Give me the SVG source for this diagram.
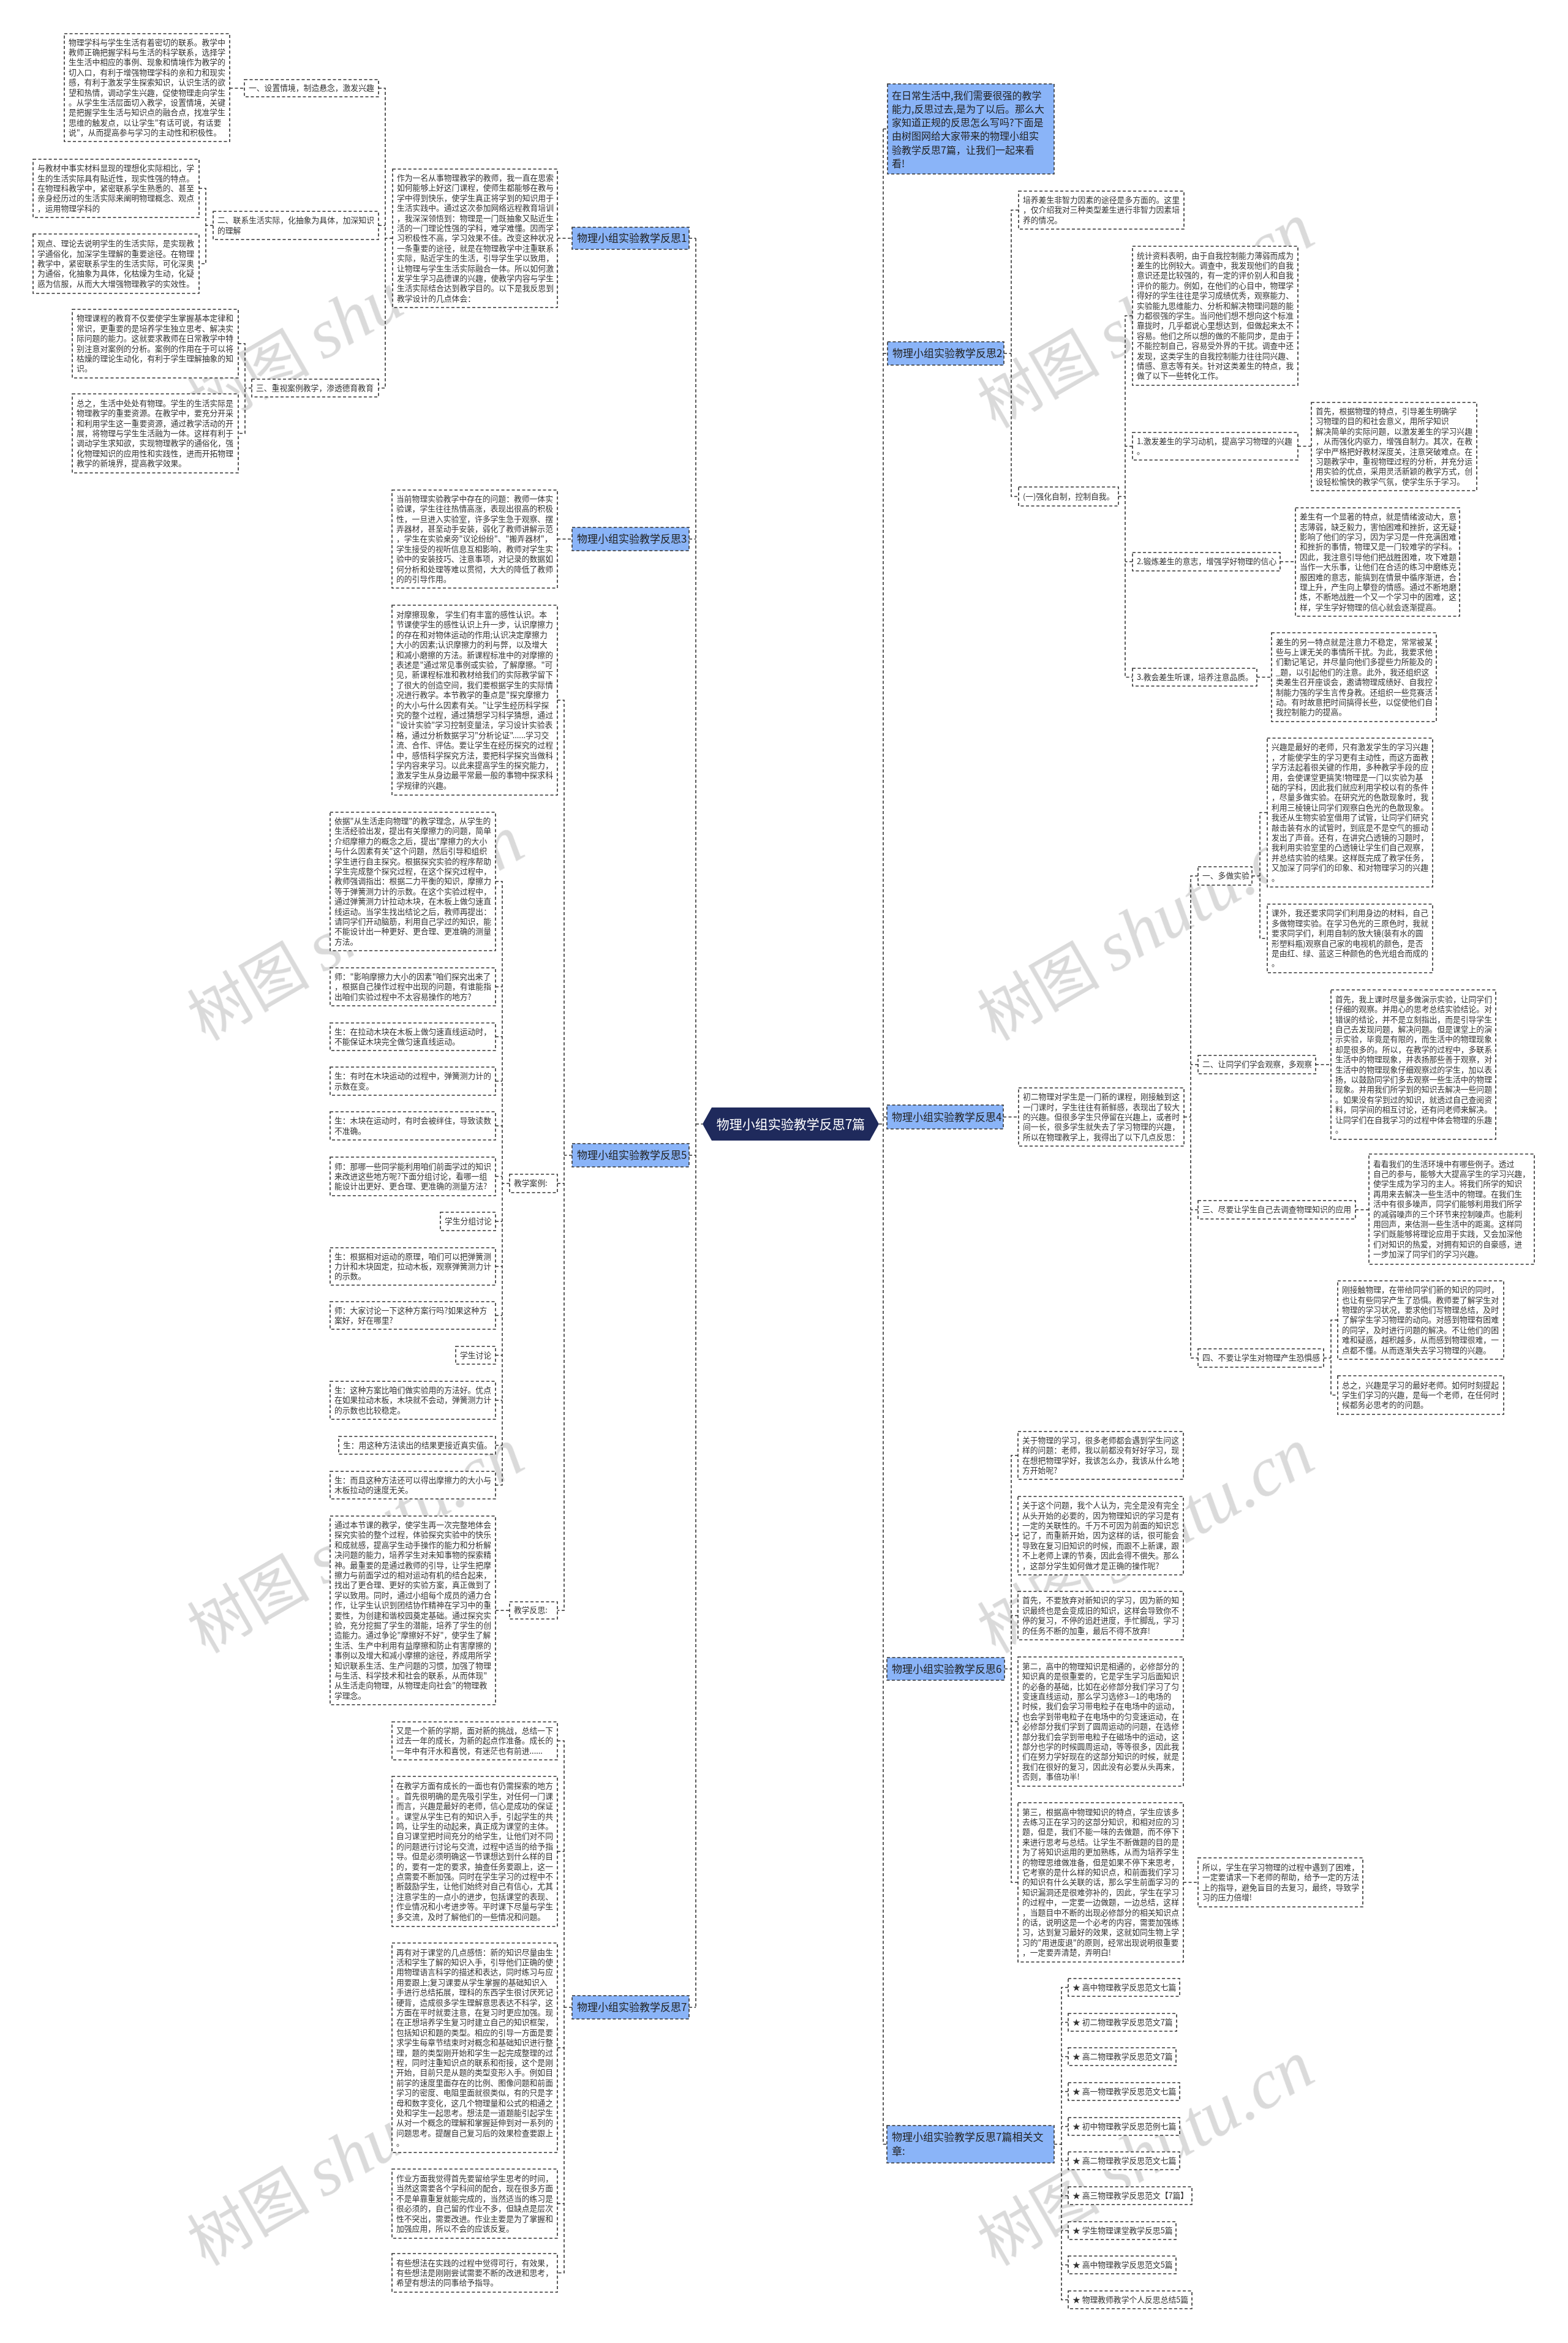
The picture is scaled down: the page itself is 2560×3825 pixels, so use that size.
<svg xmlns="http://www.w3.org/2000/svg" width="2560" height="3825" viewBox="0 0 2560 3825">
<style>
.box{fill:#fff;stroke:#333;stroke-width:1.6;stroke-dasharray:5 3.5}
.blue{fill:#8ab4f8;stroke:#333;stroke-width:1.6;stroke-dasharray:5 3.5}
.t{font-family:"Noto Sans CJK SC","Microsoft YaHei",sans-serif;font-size:12.8px;fill:#333}
.bt{font-family:"Noto Sans CJK SC","Microsoft YaHei",sans-serif;font-size:17px;fill:#222}
.it{font-family:"Noto Sans CJK SC","Microsoft YaHei",sans-serif;font-size:16px;fill:#222}
.lk{fill:none;stroke:#333;stroke-width:1.6;stroke-dasharray:5 3.5}
.wm{font-family:"Noto Sans CJK SC",sans-serif;font-size:100px;fill:#d6d6d6}
.wm2{font-family:"Liberation Serif",serif;font-style:italic;font-size:115px}
</style>
<rect width="2560" height="3825" fill="#fff"/>
<g id="watermark" opacity="0.9">
<text class="wm" transform="rotate(-30 335 700)" x="335" y="700">树图 <tspan class="wm2">shutu.cn</tspan></text>
<text class="wm" transform="rotate(-30 1625 700)" x="1625" y="700">树图 <tspan class="wm2">shutu.cn</tspan></text>
<text class="wm" transform="rotate(-30 335 1700)" x="335" y="1700">树图 <tspan class="wm2">shutu.cn</tspan></text>
<text class="wm" transform="rotate(-30 1625 1700)" x="1625" y="1700">树图 <tspan class="wm2">shutu.cn</tspan></text>
<text class="wm" transform="rotate(-30 335 2700)" x="335" y="2700">树图 <tspan class="wm2">shutu.cn</tspan></text>
<text class="wm" transform="rotate(-30 1625 2700)" x="1625" y="2700">树图 <tspan class="wm2">shutu.cn</tspan></text>
<text class="wm" transform="rotate(-30 335 3700)" x="335" y="3700">树图 <tspan class="wm2">shutu.cn</tspan></text>
<text class="wm" transform="rotate(-30 1625 3700)" x="1625" y="3700">树图 <tspan class="wm2">shutu.cn</tspan></text>
</g>
<g id="connectors">
<path class="lk" d="M1136 389V3277M1125 389H1136M1125 880H1136M1125 1886H1136M1125 3277H1136M1136 1835H1147"/>
<path class="lk" d="M1442 210.5V3500.5M1442 210.5H1449M1442 577H1449M1442 1823.5H1448M1442 2724.5H1448M1442 3500.5H1448M1435 1835H1442"/>
<path class="lk" d="M910 389H934M641 389H629M618 144H629V633.5H618M618 368H629M375 144H399M348 368H336M325 307.5H336V430.5H325M411 633.5H400M389 561H400V707.5H389"/>
<path class="lk" d="M910 880H934M934 1886H921M910 1143H921V2629H910M910 1932H921M832 1932H820M809 1439H820V2424.5H809M809 1611H820M809 1692.5H820M809 1765H820M809 1838H820M809 1920.5H820M809 1994H820M809 2067.5H820M809 2147.5H820M809 2212.5H820M809 2286H820M809 2359.5H820M809 2629H832"/>
<path class="lk" d="M934 3277H921M910 2842H921V3710.5H910M910 3022.5H921M910 3343H921M910 3597.5H921"/>
<path class="lk" d="M1639 577H1651M1663 343H1651V810.5H1663M1826 810.5H1837M1849 515.5H1837V1105.5H1849M1849 728.5H1837M1849 917H1837M2119 728.5H2141M2090 917H2115M2052 1105.5H2076"/>
<path class="lk" d="M1638 1823.5H1663M1933 1823.5H1944M1956 1430H1944V2217H1956M1956 1738H1944M1956 1975H1944M2044 1430H2057M2069 1326.5H2057V1532H2069M2148 1738H2173M2213 1975H2235M2161 2217H2173M2184 2155H2173V2277.5H2184"/>
<path class="lk" d="M1640 2724.5H1651M1662 2376H1651V3073H1662M1662 2507H1651M1662 2637.5H1651M1662 2810.5H1651M1932 3073H1956"/>
<path class="lk" d="M1721 3500.5H1733M1744 3244.5H1733V3754.5H1744M1744 3301.5H1733M1744 3357.5H1733M1744 3414.5H1733M1744 3471.5H1733M1744 3527.5H1733M1744 3584.5H1733M1744 3641.5H1733M1744 3697.5H1733"/>
</g>
<g id="center">
<polygon points="1147,1835 1162,1808 1420,1808 1435,1835 1420,1862 1162,1862" fill="#1f2a5c"/>
<text x="1291" y="1842.5" text-anchor="middle" font-family="Noto Sans CJK SC, sans-serif" font-size="21" fill="#fff">物理小组实验教学反思7篇</text>
</g>
<g id="branch1">
<rect class="blue" x="934" y="371" width="191" height="36"/>
<text class="bt" x="942" y="395">物理小组实验教学反思1</text>
</g>
<g id="b1-main">
<rect class="box" x="641" y="276" width="269" height="226"/>
<text class="t" x="648" y="295"><tspan x="648">作为一名从事物理教学的教师，我一直在思索</tspan><tspan x="648" dy="16.4">如何能够上好这门课程，使师生都能够在教与</tspan><tspan x="648" dy="16.4">学中得到快乐，使学生真正将学到的知识用于</tspan><tspan x="648" dy="16.4">生活实践中。通过这次参加网络远程教育培训</tspan><tspan x="648" dy="16.4">，我深深领悟到：物理是一门既抽象又贴近生</tspan><tspan x="648" dy="16.4">活的一门理论性强的学科，难学难懂。因而学</tspan><tspan x="648" dy="16.4">习积极性不高，学习效果不佳。改变这种状况</tspan><tspan x="648" dy="16.4">一条重要的途径，就是在物理教学中注重联系</tspan><tspan x="648" dy="16.4">实际，贴近学生的生活，引导学生学以致用，</tspan><tspan x="648" dy="16.4">让物理与学生生活实际融合一体。所以如何激</tspan><tspan x="648" dy="16.4">发学生学习品德课的兴趣，使教学内容与学生</tspan><tspan x="648" dy="16.4">生活实际结合达到教学目的。以下是我反思到</tspan><tspan x="648" dy="16.4">教学设计的几点体会：</tspan></text>
</g>
<g id="b1-l1">
<rect class="box" x="399" y="130" width="219" height="28"/>
<text class="t" x="406" y="148.4">一、设置情境，制造悬念，激发兴趣</text>
</g>
<g id="b1-l1-a">
<rect class="box" x="105" y="55" width="270" height="176"/>
<text class="t" x="112" y="73.6"><tspan x="112">物理学科与学生生活有着密切的联系。教学中</tspan><tspan x="112" dy="16.4">教师正确把握学科与生活的科学联系，选择学</tspan><tspan x="112" dy="16.4">生生活中相应的事例、现象和情境作为教学的</tspan><tspan x="112" dy="16.4">切入口，有利于增强物理学科的亲和力和现实</tspan><tspan x="112" dy="16.4">感，有利于激发学生探索知识，认识生活的欲</tspan><tspan x="112" dy="16.4">望和热情，调动学生兴趣，促使物理走向学生</tspan><tspan x="112" dy="16.4">。从学生生活层面切入教学，设置情境，关键</tspan><tspan x="112" dy="16.4">是把握学生生活与知识点的融合点，找准学生</tspan><tspan x="112" dy="16.4">思维的触发点，以让学生"有话可说，有话要</tspan><tspan x="112" dy="16.4">说"，从而提高参与学习的主动性和积极性。</tspan></text>
</g>
<g id="b1-l2">
<rect class="box" x="348" y="345" width="270" height="46"/>
<text class="t" x="355" y="364.2"><tspan x="355">二、联系生活实际，化抽象为具体，加深知识</tspan><tspan x="355" dy="16.4">的理解</tspan></text>
</g>
<g id="b1-l2-a">
<rect class="box" x="54" y="260" width="271" height="95"/>
<text class="t" x="61" y="279.1"><tspan x="61">与教材中事实材料显现的理想化实际相比，学</tspan><tspan x="61" dy="16.4">生的生活实际具有贴近性，现实性强的特点。</tspan><tspan x="61" dy="16.4">在物理科教学中，紧密联系学生熟悉的、甚至</tspan><tspan x="61" dy="16.4">亲身经历过的生活实际来阐明物理概念、观点</tspan><tspan x="61" dy="16.4">，运用物理学科的</tspan></text>
</g>
<g id="b1-l2-b">
<rect class="box" x="54" y="382" width="271" height="97"/>
<text class="t" x="61" y="402.1"><tspan x="61">观点、理论去说明学生的生活实际，是实现教</tspan><tspan x="61" dy="16.4">学通俗化，加深学生理解的重要途径。在物理</tspan><tspan x="61" dy="16.4">教学中，紧密联系学生的生活实际，可化深奥</tspan><tspan x="61" dy="16.4">为通俗，化抽象为具体，化枯燥为生动，化疑</tspan><tspan x="61" dy="16.4">惑为信服，从而大大增强物理教学的实效性。</tspan></text>
</g>
<g id="b1-l3">
<rect class="box" x="411" y="619" width="207" height="29"/>
<text class="t" x="418" y="637.9">三、重视案例教学，渗透德育教育</text>
</g>
<g id="b1-l3-a">
<rect class="box" x="118" y="505" width="271" height="112"/>
<text class="t" x="125" y="524.4"><tspan x="125">物理课程的教育不仅要使学生掌握基本定律和</tspan><tspan x="125" dy="16.4">常识，更重要的是培养学生独立思考、解决实</tspan><tspan x="125" dy="16.4">际问题的能力。这就要求教师在日常教学中特</tspan><tspan x="125" dy="16.4">别注意对案例的分析。案例的作用在于可以将</tspan><tspan x="125" dy="16.4">枯燥的理论生动化，有利于学生理解抽象的知</tspan><tspan x="125" dy="16.4">识。</tspan></text>
</g>
<g id="b1-l3-b">
<rect class="box" x="118" y="643" width="271" height="129"/>
<text class="t" x="125" y="662.7"><tspan x="125">总之，生活中处处有物理。学生的生活实际是</tspan><tspan x="125" dy="16.4">物理教学的重要资源。在教学中，要充分开采</tspan><tspan x="125" dy="16.4">和利用学生这一重要资源，通过教学活动的开</tspan><tspan x="125" dy="16.4">展，将物理与学生生活融为一体。这样有利于</tspan><tspan x="125" dy="16.4">调动学生求知欲，实现物理教学的通俗化，强</tspan><tspan x="125" dy="16.4">化物理知识的应用性和实践性，进而开拓物理</tspan><tspan x="125" dy="16.4">教学的新境界，提高教学效果。</tspan></text>
</g>
<g id="branch3">
<rect class="blue" x="934" y="861" width="191" height="38"/>
<text class="bt" x="942" y="886">物理小组实验教学反思3</text>
</g>
<g id="b3-a">
<rect class="box" x="640" y="800" width="270" height="160"/>
<text class="t" x="647" y="818.8"><tspan x="647">当前物理实验教学中存在的问题：教师一体实</tspan><tspan x="647" dy="16.4">验课，学生往往热情高涨，表现出很高的积极</tspan><tspan x="647" dy="16.4">性，一旦进入实验室，许多学生急于观察、摆</tspan><tspan x="647" dy="16.4">弄器材，甚至动手安装，弱化了教师讲解示范</tspan><tspan x="647" dy="16.4">，学生在实验桌旁"议论纷纷"、"搬弄器材"，</tspan><tspan x="647" dy="16.4">学生接受的视听信息互相影响，教师对学生实</tspan><tspan x="647" dy="16.4">验中的安装技巧、注意事项，对记录的数据如</tspan><tspan x="647" dy="16.4">何分析和处理等难以贯彻，大大的降低了教师</tspan><tspan x="647" dy="16.4">的的引导作用。</tspan></text>
</g>
<g id="branch5">
<rect class="blue" x="934" y="1867" width="191" height="38"/>
<text class="bt" x="942" y="1892">物理小组实验教学反思5</text>
</g>
<g id="b5-a">
<rect class="box" x="640" y="988" width="270" height="310"/>
<text class="t" x="647" y="1008"><tspan x="647">对摩擦现象， 学生们有丰富的感性认识。本</tspan><tspan x="647" dy="16.4">节课使学生的感性认识上升一步，认识摩擦力</tspan><tspan x="647" dy="16.4">的存在和对物体运动的作用;认识决定摩擦力</tspan><tspan x="647" dy="16.4">大小的因素;认识摩擦力的利与弊，以及增大</tspan><tspan x="647" dy="16.4">和减小磨擦的方法。新课程标准中的对摩擦的</tspan><tspan x="647" dy="16.4">表述是"通过常见事例或实验，了解摩擦。"可</tspan><tspan x="647" dy="16.4">见，新课程标准和教材给我们的实际教学留下</tspan><tspan x="647" dy="16.4">了很大的创造空间，我们要根据学生的实际情</tspan><tspan x="647" dy="16.4">况进行教学。本节教学的重点是"探究摩擦力</tspan><tspan x="647" dy="16.4">的大小与什么因素有关。"让学生经历科学探</tspan><tspan x="647" dy="16.4">究的整个过程，通过猜想学习科学猜想，通过</tspan><tspan x="647" dy="16.4">"设计实验"学习控制变量法，学习设计实验表</tspan><tspan x="647" dy="16.4">格，通过分析数据学习"分析论证"......学习交</tspan><tspan x="647" dy="16.4">流、合作、评估。要让学生在经历探究的过程</tspan><tspan x="647" dy="16.4">中，感悟科学探究方法，要把科学探究当做科</tspan><tspan x="647" dy="16.4">学内容来学习。以此来提高学生的探究能力，</tspan><tspan x="647" dy="16.4">激发学生从身边最平常最一般的事物中探求科</tspan><tspan x="647" dy="16.4">学规律的兴趣。</tspan></text>
</g>
<g id="b5-case">
<rect class="box" x="832" y="1917" width="78" height="30"/>
<text class="t" x="839" y="1936.4">教学案例:</text>
</g>
<g id="b5-c1">
<rect class="box" x="539" y="1326" width="270" height="226"/>
<text class="t" x="546" y="1345"><tspan x="546">依据"从生活走向物理"的教学理念，从学生的</tspan><tspan x="546" dy="16.4">生活经验出发，提出有关摩擦力的问题，简单</tspan><tspan x="546" dy="16.4">介绍摩擦力的概念之后，提出"摩擦力的大小</tspan><tspan x="546" dy="16.4">与什么因素有关"这个问题，然后引导和组织</tspan><tspan x="546" dy="16.4">学生进行自主探究。根据探究实验的程序帮助</tspan><tspan x="546" dy="16.4">学生完成整个探究过程，在这个探究过程中，</tspan><tspan x="546" dy="16.4">教师强调指出：根据二力平衡的知识，摩擦力</tspan><tspan x="546" dy="16.4">等于弹簧测力计的示数。在这个实验过程中，</tspan><tspan x="546" dy="16.4">通过弹簧测力计拉动木块，在木板上做匀速直</tspan><tspan x="546" dy="16.4">线运动。当学生找出结论之后，教师再提出：</tspan><tspan x="546" dy="16.4">请同学们开动脑筋，利用自己学过的知识，能</tspan><tspan x="546" dy="16.4">不能设计出一种更好、更合理、更准确的测量</tspan><tspan x="546" dy="16.4">方法。</tspan></text>
</g>
<g id="b5-c2">
<rect class="box" x="539" y="1580" width="270" height="62"/>
<text class="t" x="546" y="1599"><tspan x="546">师："影响摩擦力大小的因素"咱们探究出来了</tspan><tspan x="546" dy="16.4">，根据自己操作过程中出现的问题，有谁能指</tspan><tspan x="546" dy="16.4">出咱们实验过程中不太容易操作的地方?</tspan></text>
</g>
<g id="b5-c3">
<rect class="box" x="539" y="1670" width="270" height="45"/>
<text class="t" x="546" y="1688.7"><tspan x="546">生：在拉动木块在木板上做匀速直线运动时，</tspan><tspan x="546" dy="16.4">不能保证木块完全做匀速直线运动。</tspan></text>
</g>
<g id="b5-c4">
<rect class="box" x="539" y="1742" width="270" height="46"/>
<text class="t" x="546" y="1761.2"><tspan x="546">生：有时在木块运动的过程中，弹簧测力计的</tspan><tspan x="546" dy="16.4">示数在变。</tspan></text>
</g>
<g id="b5-c5">
<rect class="box" x="539" y="1815" width="270" height="46"/>
<text class="t" x="546" y="1834.2"><tspan x="546">生：木块在运动时，有时会被绊住，导致读数</tspan><tspan x="546" dy="16.4">不准确。</tspan></text>
</g>
<g id="b5-c6">
<rect class="box" x="539" y="1889" width="270" height="63"/>
<text class="t" x="546" y="1908.5"><tspan x="546">师：那哪一些同学能利用咱们前面学过的知识</tspan><tspan x="546" dy="16.4">来改进这些地方呢?下面分组讨论，看哪一组</tspan><tspan x="546" dy="16.4">能设计出更好、更合理、更准确的测量方法?</tspan></text>
</g>
<g id="b5-c7">
<rect class="box" x="719" y="1979" width="90" height="30"/>
<text class="t" x="726" y="1998.4">学生分组讨论</text>
</g>
<g id="b5-c8">
<rect class="box" x="539" y="2037" width="270" height="61"/>
<text class="t" x="546" y="2055.5"><tspan x="546">生：根据相对运动的原理，咱们可以把弹簧测</tspan><tspan x="546" dy="16.4">力计和木块固定，拉动木板，观察弹簧测力计</tspan><tspan x="546" dy="16.4">的示数。</tspan></text>
</g>
<g id="b5-c9">
<rect class="box" x="539" y="2125" width="270" height="45"/>
<text class="t" x="546" y="2143.7"><tspan x="546">师：大家讨论一下这种方案行吗?如果这种方</tspan><tspan x="546" dy="16.4">案好，好在哪里?</tspan></text>
</g>
<g id="b5-c10">
<rect class="box" x="744" y="2198" width="65" height="29"/>
<text class="t" x="751" y="2216.9">学生讨论</text>
</g>
<g id="b5-c11">
<rect class="box" x="539" y="2255" width="270" height="62"/>
<text class="t" x="546" y="2274"><tspan x="546">生：这种方案比咱们做实验用的方法好。优点</tspan><tspan x="546" dy="16.4">在如果拉动木板，木块就不会动，弹簧测力计</tspan><tspan x="546" dy="16.4">的示数也比较稳定。</tspan></text>
</g>
<g id="b5-c12">
<rect class="box" x="553" y="2345" width="256" height="29"/>
<text class="t" x="560" y="2363.9">生：用这种方法读出的结果更接近真实值。</text>
</g>
<g id="b5-c13">
<rect class="box" x="539" y="2402" width="270" height="45"/>
<text class="t" x="546" y="2420.7"><tspan x="546">生：而且这种方法还可以得出摩擦力的大小与</tspan><tspan x="546" dy="16.4">木板拉动的速度无关。</tspan></text>
</g>
<g id="b5-refl">
<rect class="box" x="832" y="2615" width="78" height="28"/>
<text class="t" x="839" y="2633.4">教学反思:</text>
</g>
<g id="b5-g">
<rect class="box" x="539" y="2475" width="270" height="308"/>
<text class="t" x="546" y="2494"><tspan x="546">通过本节课的教学，使学生再一次完整地体会</tspan><tspan x="546" dy="16.4">探究实验的整个过程，体验探究实验中的快乐</tspan><tspan x="546" dy="16.4">和成就感，提高学生动手操作的能力和分析解</tspan><tspan x="546" dy="16.4">决问题的能力，培养学生对未知事物的探索精</tspan><tspan x="546" dy="16.4">神。最重要的是通过教师的引导，让学生把摩</tspan><tspan x="546" dy="16.4">擦力与前面学过的相对运动有机的结合起来，</tspan><tspan x="546" dy="16.4">找出了更合理、更好的实验方案，真正做到了</tspan><tspan x="546" dy="16.4">学以致用。同时，通过小组每个成员的通力合</tspan><tspan x="546" dy="16.4">作，让学生认识到团结协作精神在学习中的重</tspan><tspan x="546" dy="16.4">要性，为创建和谐校园奠定基础。通过探究实</tspan><tspan x="546" dy="16.4">验，充分挖掘了学生的潜能，培养了学生的创</tspan><tspan x="546" dy="16.4">造能力。通过争论"摩擦好不好"，使学生了解</tspan><tspan x="546" dy="16.4">生活、生产中利用有益摩擦和防止有害摩擦的</tspan><tspan x="546" dy="16.4">事例以及增大和减小摩擦的途径，养成用所学</tspan><tspan x="546" dy="16.4">知识联系生活、生产问题的习惯，加强了物理</tspan><tspan x="546" dy="16.4">与生活、科学技术和社会的联系，从而体现"</tspan><tspan x="546" dy="16.4">从生活走向物理，从物理走向社会"的物理教</tspan><tspan x="546" dy="16.4">学理念。</tspan></text>
</g>
<g id="branch7">
<rect class="blue" x="934" y="3258" width="191" height="38"/>
<text class="bt" x="942" y="3283">物理小组实验教学反思7</text>
</g>
<g id="b7-a">
<rect class="box" x="640" y="2811" width="270" height="62"/>
<text class="t" x="647" y="2830"><tspan x="647">又是一个新的学期，面对新的挑战，总结一下</tspan><tspan x="647" dy="16.4">过去一年的成长，为新的起点作准备。成长的</tspan><tspan x="647" dy="16.4">一年中有汗水和喜悦，有迷茫也有前进......</tspan></text>
</g>
<g id="b7-b">
<rect class="box" x="640" y="2900" width="270" height="245"/>
<text class="t" x="647" y="2920.3"><tspan x="647">在教学方面有成长的一面也有仍需探索的地方</tspan><tspan x="647" dy="16.4">。首先很明确的是先吸引学生，对任何一门课</tspan><tspan x="647" dy="16.4">而言，兴趣是最好的老师，信心是成功的保证</tspan><tspan x="647" dy="16.4">。课堂从学生已有的知识入手，引起学生的共</tspan><tspan x="647" dy="16.4">鸣，让学生的动起来，真正成为课堂的主体。</tspan><tspan x="647" dy="16.4">自习课堂把时间充分的给学生，让他们对不同</tspan><tspan x="647" dy="16.4">的问题进行讨论与交流，过程中适当的给予指</tspan><tspan x="647" dy="16.4">导。但是必须明确这一节课想达到什么样的目</tspan><tspan x="647" dy="16.4">的，要有一定的要求，抽查任务要跟上，这一</tspan><tspan x="647" dy="16.4">点需要不断加强。同时在学生学习的过程中不</tspan><tspan x="647" dy="16.4">断鼓励学生，让他们始终对自己有信心，尤其</tspan><tspan x="647" dy="16.4">注意学生的一点小的进步，包括课堂的表现、</tspan><tspan x="647" dy="16.4">作业情况和小考进步等。平时课下尽量与学生</tspan><tspan x="647" dy="16.4">多交流，及时了解他们的一些情况和问题。</tspan></text>
</g>
<g id="b7-c">
<rect class="box" x="640" y="3172" width="270" height="342"/>
<text class="t" x="647" y="3191.6"><tspan x="647">再有对于课堂的几点感悟：新的知识尽量由生</tspan><tspan x="647" dy="16.4">活和学生了解的知识入手，引导他们正确的使</tspan><tspan x="647" dy="16.4">用物理语言科学的描述和表达，同时练习与应</tspan><tspan x="647" dy="16.4">用要跟上;复习课要从学生掌握的基础知识入</tspan><tspan x="647" dy="16.4">手进行总结拓展，理科的东西学生很讨厌死记</tspan><tspan x="647" dy="16.4">硬背，造成很多学生理解意思表达不科学，这</tspan><tspan x="647" dy="16.4">方面在平时就要注意，在复习时更应加强。现</tspan><tspan x="647" dy="16.4">在正想培养学生复习时建立自己的知识框架，</tspan><tspan x="647" dy="16.4">包括知识和题的类型。相应的引导一方面是要</tspan><tspan x="647" dy="16.4">求学生每章节结束时对概念和基础知识进行整</tspan><tspan x="647" dy="16.4">理，题的类型刚开始和学生一起完成整理的过</tspan><tspan x="647" dy="16.4">程，同时注重知识点的联系和衔接，这个是刚</tspan><tspan x="647" dy="16.4">开始，目前只是从题的类型变形入手。例如目</tspan><tspan x="647" dy="16.4">前学的速度里面存在的比例、图像问题和前面</tspan><tspan x="647" dy="16.4">学习的密度、电阻里面就很类似，有的只是字</tspan><tspan x="647" dy="16.4">母和数字变化，这几个物理量和公式的相通之</tspan><tspan x="647" dy="16.4">处和学生一起思考。想法是一道题能引起学生</tspan><tspan x="647" dy="16.4">从对一个概念的理解和掌握延伸到对一系列的</tspan><tspan x="647" dy="16.4">问题思考。提醒自己复习后的效果检查要跟上</tspan><tspan x="647" dy="16.4">。</tspan></text>
</g>
<g id="b7-d">
<rect class="box" x="640" y="3541" width="270" height="113"/>
<text class="t" x="647" y="3560.9"><tspan x="647">作业方面我觉得首先要留给学生思考的时间，</tspan><tspan x="647" dy="16.4">当然这需要各个学科间的配合，现在很多方面</tspan><tspan x="647" dy="16.4">不是单靠重复就能完成的，当然适当的练习是</tspan><tspan x="647" dy="16.4">很必须的，自己留的作业不多，但缺点是层次</tspan><tspan x="647" dy="16.4">性不突出，需要改进。作业主要是为了掌握和</tspan><tspan x="647" dy="16.4">加强应用，所以不会的应该反复。</tspan></text>
</g>
<g id="b7-e">
<rect class="box" x="640" y="3679" width="270" height="63"/>
<text class="t" x="647" y="3698.5"><tspan x="647">有些想法在实践的过程中觉得可行，有效果，</tspan><tspan x="647" dy="16.4">有些想法是刚刚尝试需要不断的改进和思考，</tspan><tspan x="647" dy="16.4">希望有想法的同事给予指导。</tspan></text>
</g>
<g id="intro">
<rect class="blue" x="1449" y="137" width="272" height="147"/>
<text class="it" x="1456" y="162"><tspan x="1456">在日常生活中,我们需要很强的教学</tspan><tspan x="1456" dy="22.14">能力,反思过去,是为了以后。那么大</tspan><tspan x="1456" dy="22.14">家知道正规的反思怎么写吗?下面是</tspan><tspan x="1456" dy="22.14">由树图网给大家带来的物理小组实</tspan><tspan x="1456" dy="22.14">验教学反思7篇，让我们一起来看</tspan><tspan x="1456" dy="22.14">看!</tspan></text>
</g>
<g id="branch2">
<rect class="blue" x="1449" y="558" width="190" height="38"/>
<text class="bt" x="1457" y="583">物理小组实验教学反思2</text>
</g>
<g id="b2-a">
<rect class="box" x="1663" y="312" width="270" height="62"/>
<text class="t" x="1670" y="331"><tspan x="1670">培养差生非智力因素的途径是多方面的。这里</tspan><tspan x="1670" dy="16.4">，仅介绍我对三种类型差生进行非智力因素培</tspan><tspan x="1670" dy="16.4">养的情况。</tspan></text>
</g>
<g id="b2-one">
<rect class="box" x="1663" y="795" width="163" height="31"/>
<text class="t" x="1670" y="814.9">(一)强化自制，控制自我。</text>
</g>
<g id="b2-one-a">
<rect class="box" x="1849" y="402" width="270" height="227"/>
<text class="t" x="1856" y="421.5"><tspan x="1856">统计资料表明，由于自我控制能力薄弱而成为</tspan><tspan x="1856" dy="16.4">差生的比例较大。调查中，我发现他们的自我</tspan><tspan x="1856" dy="16.4">意识还是比较强的，有一定的评价别人和自我</tspan><tspan x="1856" dy="16.4">评价的能力。例如，在他们的心目中，物理学</tspan><tspan x="1856" dy="16.4">得好的学生往往是学习成绩优秀，观察能力、</tspan><tspan x="1856" dy="16.4">实验能九思维能力、分析和解决物理问题的能</tspan><tspan x="1856" dy="16.4">力都很强的学生。当问他们想不想向这个标准</tspan><tspan x="1856" dy="16.4">靠拢时，几乎都说心里想达到，但做起来太不</tspan><tspan x="1856" dy="16.4">容易。他们之所以想的做的不能同步，是由于</tspan><tspan x="1856" dy="16.4">不能控制自己，容易受外界的干扰。调查中还</tspan><tspan x="1856" dy="16.4">发现，这类学生的自我控制能力往往同兴趣、</tspan><tspan x="1856" dy="16.4">情感、意志等有关。针对这类差生的特点，我</tspan><tspan x="1856" dy="16.4">做了以下一些转化工作。</tspan></text>
</g>
<g id="b2-s1">
<rect class="box" x="1849" y="706" width="270" height="45"/>
<text class="t" x="1856" y="724.7"><tspan x="1856">1.激发差生的学习动机，提高学习物理的兴趣</tspan><tspan x="1856" dy="16.4">。</tspan></text>
</g>
<g id="b2-s1-a">
<rect class="box" x="2141" y="657" width="270" height="144"/>
<text class="t" x="2148" y="676"><tspan x="2148">首先，根据物理的特点，引导差生明确学</tspan><tspan x="2148" dy="16.4">习物理的目的和社会意义，用所学知识</tspan><tspan x="2148" dy="16.4">解决简单的实际问题，以激发差生的学习兴趣</tspan><tspan x="2148" dy="16.4">，从而强化内驱力，增强自制力。其次，在教</tspan><tspan x="2148" dy="16.4">学中严格把好教材深度关，注意突破难点。在</tspan><tspan x="2148" dy="16.4">习题教学中，重视物理过程的分析，并充分运</tspan><tspan x="2148" dy="16.4">用实验的优点，采用灵活新颖的教学方式，创</tspan><tspan x="2148" dy="16.4">设轻松愉快的教学气氛，使学生乐于学习。</tspan></text>
</g>
<g id="b2-s2">
<rect class="box" x="1849" y="902" width="241" height="30"/>
<text class="t" x="1856" y="921.4">2.锻炼差生的意志，增强学好物理的信心</text>
</g>
<g id="b2-s2-a">
<rect class="box" x="2115" y="829" width="268" height="177"/>
<text class="t" x="2122" y="848.1"><tspan x="2122">差生有一个显著的特点，就是情绪波动大，意</tspan><tspan x="2122" dy="16.4">志薄弱，缺乏毅力，害怕困难和挫折，这无疑</tspan><tspan x="2122" dy="16.4">影响了他们的学习，因为学习是一件充满困难</tspan><tspan x="2122" dy="16.4">和挫折的事情，物理又是一门较难学的学科。</tspan><tspan x="2122" dy="16.4">因此，我注意引导他们把战胜困难，攻下难题</tspan><tspan x="2122" dy="16.4">当作一大乐事，让他们在合适的练习中磨练克</tspan><tspan x="2122" dy="16.4">服困难的意志，能搞到在情景中循序渐进，合</tspan><tspan x="2122" dy="16.4">理上升，产生向上攀登的情感。通过不断地磨</tspan><tspan x="2122" dy="16.4">炼，不断地战胜一个又一个学习中的困难，这</tspan><tspan x="2122" dy="16.4">样，学生学好物理的信心就会逐渐提高。</tspan></text>
</g>
<g id="b2-s3">
<rect class="box" x="1849" y="1091" width="203" height="29"/>
<text class="t" x="1856" y="1109.9">3.教会差生听课，培养注意品质。</text>
</g>
<g id="b2-s3-a">
<rect class="box" x="2076" y="1033" width="269" height="145"/>
<text class="t" x="2083" y="1052.5"><tspan x="2083">差生的另一特点就是注意力不稳定，常常被某</tspan><tspan x="2083" dy="16.4">些与上课无关的事情所干扰。为此，我要求他</tspan><tspan x="2083" dy="16.4">们勤记笔记，并尽量向他们多提些力所能及的</tspan><tspan x="2083" dy="16.4">_题，以引起他们的注意。此外，我还组织这</tspan><tspan x="2083" dy="16.4">类差生召开座谈会，邀请物理成绩好、自我控</tspan><tspan x="2083" dy="16.4">制能力强的学生言传身教。还组织一些竞赛活</tspan><tspan x="2083" dy="16.4">动。有时故意把时间搞得长些，以促使他们自</tspan><tspan x="2083" dy="16.4">我控制能力的提高。</tspan></text>
</g>
<g id="branch4">
<rect class="blue" x="1448" y="1804" width="190" height="39"/>
<text class="bt" x="1456" y="1829.5">物理小组实验教学反思4</text>
</g>
<g id="b4-a">
<rect class="box" x="1663" y="1776" width="270" height="95"/>
<text class="t" x="1670" y="1795.1"><tspan x="1670">初二物理对学生是一门新的课程，刚接触到这</tspan><tspan x="1670" dy="16.4">一门课时，学生往往有新鲜感，表现出了较大</tspan><tspan x="1670" dy="16.4">的兴趣。但很多学生只停留在兴趣上，或者时</tspan><tspan x="1670" dy="16.4">间一长，很多学生就失去了学习物理的兴趣，</tspan><tspan x="1670" dy="16.4">所以在物理教学上，我得出了以下几点反思：</tspan></text>
</g>
<g id="b4-t1">
<rect class="box" x="1956" y="1415" width="88" height="30"/>
<text class="t" x="1963" y="1434.4">一、多做实验</text>
</g>
<g id="b4-t1-a">
<rect class="box" x="2069" y="1205" width="270" height="243"/>
<text class="t" x="2076" y="1224.3"><tspan x="2076">兴趣是最好的老师，只有激发学生的学习兴趣</tspan><tspan x="2076" dy="16.4">，才能使学生的学习更有主动性，而这方面教</tspan><tspan x="2076" dy="16.4">学方法起着很关键的作用，多种教学手段的应</tspan><tspan x="2076" dy="16.4">用，会使课堂更搞笑!物理是一门以实验为基</tspan><tspan x="2076" dy="16.4">础的学科，因此我们就应利用学校以有的条件</tspan><tspan x="2076" dy="16.4">，尽量多做实验。在研究光的色散现象时，我</tspan><tspan x="2076" dy="16.4">利用三棱镜让同学们观察白色光的色散现象。</tspan><tspan x="2076" dy="16.4">我还从生物实验室借用了试管，让同学们研究</tspan><tspan x="2076" dy="16.4">敲击装有水的试管时，到底是不是空气的振动</tspan><tspan x="2076" dy="16.4">发出了声音。还有，在讲究凸透镜的习题时，</tspan><tspan x="2076" dy="16.4">我利用实验室里的凸透镜让学生们自己观察，</tspan><tspan x="2076" dy="16.4">并总结实验的结果。这样既完成了教学任务，</tspan><tspan x="2076" dy="16.4">又加深了同学们的印象、和对物理学习的兴趣</tspan><tspan x="2076" dy="16.4">。</tspan></text>
</g>
<g id="b4-t1-b">
<rect class="box" x="2069" y="1476" width="270" height="112"/>
<text class="t" x="2076" y="1495.4"><tspan x="2076">课外，我还要求同学们利用身边的材料，自己</tspan><tspan x="2076" dy="16.4">多做物理实验。在学习色光的三原色时，我就</tspan><tspan x="2076" dy="16.4">要求同学们，利用自制的放大镜(装有水的圆</tspan><tspan x="2076" dy="16.4">形塑料瓶)观察自己家的电视机的颜色，是否</tspan><tspan x="2076" dy="16.4">是由红、绿、蓝这三种颜色的色光组合而成的</tspan><tspan x="2076" dy="16.4">。</tspan></text>
</g>
<g id="b4-t2">
<rect class="box" x="1956" y="1723" width="192" height="30"/>
<text class="t" x="1963" y="1742.4">二、让同学们学会观察，多观察</text>
</g>
<g id="b4-t2-a">
<rect class="box" x="2173" y="1616" width="269" height="244"/>
<text class="t" x="2180" y="1635.8"><tspan x="2180">首先，我上课时尽量多做演示实验，让同学们</tspan><tspan x="2180" dy="16.4">仔细的观察。并用心的思考总结实验结论。对</tspan><tspan x="2180" dy="16.4">错误的结论，并不是立刻指出，而是引导学生</tspan><tspan x="2180" dy="16.4">自己去发现问题，解决问题。但是课堂上的演</tspan><tspan x="2180" dy="16.4">示实验，毕竟是有限的，而生活中的物理现象</tspan><tspan x="2180" dy="16.4">却是很多的。所以，在教学的过程中，多联系</tspan><tspan x="2180" dy="16.4">生活中的物理现象，并表扬那些善于观察，对</tspan><tspan x="2180" dy="16.4">生活中的物理现象仔细观察过的学生，加以表</tspan><tspan x="2180" dy="16.4">扬，以鼓励同学们多去观察一些生活中的物理</tspan><tspan x="2180" dy="16.4">现象。并用我们所学到的知识去解决一些问题</tspan><tspan x="2180" dy="16.4">。如果没有学到过的知识，就透过自己查阅资</tspan><tspan x="2180" dy="16.4">料，同学间的相互讨论，还有问老师来解决。</tspan><tspan x="2180" dy="16.4">让同学们在自我学习的过程中体会物理的乐趣</tspan><tspan x="2180" dy="16.4">。</tspan></text>
</g>
<g id="b4-t3">
<rect class="box" x="1956" y="1960" width="257" height="30"/>
<text class="t" x="1963" y="1979.4">三、尽要让学生自己去调查物理知识的应用</text>
</g>
<g id="b4-t3-a">
<rect class="box" x="2235" y="1884" width="270" height="180"/>
<text class="t" x="2242" y="1904.6"><tspan x="2242">看看我们的生活环境中有哪些例子。透过</tspan><tspan x="2242" dy="16.4">自己的参与，能够大大提高学生的学习兴趣，</tspan><tspan x="2242" dy="16.4">使学生成为学习的主人。将我们所学的知识</tspan><tspan x="2242" dy="16.4">再用来去解决一些生活中的物理。在我们生</tspan><tspan x="2242" dy="16.4">活中有很多噪声，同学们能够利用我们所学</tspan><tspan x="2242" dy="16.4">的减弱噪声的三个环节来控制噪声。也能利</tspan><tspan x="2242" dy="16.4">用回声，来估测一些生活中的距离。这样同</tspan><tspan x="2242" dy="16.4">学们既能够将理论应用于实践，又会加深他</tspan><tspan x="2242" dy="16.4">们对知识的热爱，对拥有知识的自豪感，进</tspan><tspan x="2242" dy="16.4">一步加深了同学们的学习兴趣。</tspan></text>
</g>
<g id="b4-t4">
<rect class="box" x="1956" y="2202" width="205" height="30"/>
<text class="t" x="1963" y="2221.4">四、不要让学生对物理产生恐惧感</text>
</g>
<g id="b4-t4-a">
<rect class="box" x="2184" y="2091" width="271" height="128"/>
<text class="t" x="2191" y="2110.2"><tspan x="2191">刚接触物理，在带给同学们新的知识的同时，</tspan><tspan x="2191" dy="16.4">也让有些同学产生了恐惧。教师要了解学生对</tspan><tspan x="2191" dy="16.4">物理的学习状况，要求他们写物理总结，及时</tspan><tspan x="2191" dy="16.4">了解学生学习物理的动向。对感到物理有困难</tspan><tspan x="2191" dy="16.4">的同学，及时进行问题的解决。不让他们的困</tspan><tspan x="2191" dy="16.4">难和疑惑，越积越多，从而感到物理很难，一</tspan><tspan x="2191" dy="16.4">点都不懂。从而逐渐失去学习物理的兴趣。</tspan></text>
</g>
<g id="b4-t4-b">
<rect class="box" x="2184" y="2246" width="271" height="63"/>
<text class="t" x="2191" y="2265.5"><tspan x="2191">总之，兴趣是学习的最好老师。如何时刻提起</tspan><tspan x="2191" dy="16.4">学生们学习的兴趣，是每一个老师，在任何时</tspan><tspan x="2191" dy="16.4">候都务必思考的的问题。</tspan></text>
</g>
<g id="branch6">
<rect class="blue" x="1448" y="2706" width="192" height="37"/>
<text class="bt" x="1456" y="2730.5">物理小组实验教学反思6</text>
</g>
<g id="b6-a">
<rect class="box" x="1662" y="2337" width="270" height="78"/>
<text class="t" x="1669" y="2355.8"><tspan x="1669">关于物理的学习，很多老师都会遇到学生问这</tspan><tspan x="1669" dy="16.4">样的问题：老师，我以前都没有好好学习，现</tspan><tspan x="1669" dy="16.4">在想把物理学好，我该怎么办，我该从什么地</tspan><tspan x="1669" dy="16.4">方开始呢?</tspan></text>
</g>
<g id="b6-b">
<rect class="box" x="1662" y="2443" width="270" height="128"/>
<text class="t" x="1669" y="2462.2"><tspan x="1669">关于这个问题，我个人认为，完全是没有完全</tspan><tspan x="1669" dy="16.4">从头开始的必要的，因为物理知识的学习是有</tspan><tspan x="1669" dy="16.4">一定的关联性的。千万不可因为前面的知识忘</tspan><tspan x="1669" dy="16.4">记了，而重新开始，因为这样的话，很可能会</tspan><tspan x="1669" dy="16.4">导致在复习旧知识的时候，而跟不上新课，跟</tspan><tspan x="1669" dy="16.4">不上老师上课的节奏，因此会得不偿失。那么</tspan><tspan x="1669" dy="16.4">，这部分学生如何做才是正确的操作呢?</tspan></text>
</g>
<g id="b6-c">
<rect class="box" x="1662" y="2598" width="270" height="79"/>
<text class="t" x="1669" y="2617.3"><tspan x="1669">首先，不要放弃对新知识的学习，因为新的知</tspan><tspan x="1669" dy="16.4">识最终也是会变成旧的知识，这样会导致你不</tspan><tspan x="1669" dy="16.4">停的复习，不停的追赶进度，手忙脚乱，学习</tspan><tspan x="1669" dy="16.4">的任务不断的加重，最后不得不放弃!</tspan></text>
</g>
<g id="b6-d">
<rect class="box" x="1662" y="2705" width="270" height="211"/>
<text class="t" x="1669" y="2724.7"><tspan x="1669">第二，高中的物理知识是相通的，必修部分的</tspan><tspan x="1669" dy="16.4">知识真的是很重要的，它是学生学习后面知识</tspan><tspan x="1669" dy="16.4">的必备的基础，比如在必修部分我们学习了匀</tspan><tspan x="1669" dy="16.4">变速直线运动，那么学习选修3—1的电场的</tspan><tspan x="1669" dy="16.4">时候，我们会学习带电粒子在电场中的运动，</tspan><tspan x="1669" dy="16.4">也会学到带电粒子在电场中的匀变速运动，在</tspan><tspan x="1669" dy="16.4">必修部分我们学到了圆周运动的问题，在选修</tspan><tspan x="1669" dy="16.4">部分我们会学到带电粒子在磁场中的运动，这</tspan><tspan x="1669" dy="16.4">部分也学的时候圆周运动，等等很多，因此我</tspan><tspan x="1669" dy="16.4">们在努力学好现在的这部分知识的时候，就是</tspan><tspan x="1669" dy="16.4">我们在很好的复习，因此没有必要从头再来，</tspan><tspan x="1669" dy="16.4">否则，事倍功半!</tspan></text>
</g>
<g id="b6-e">
<rect class="box" x="1662" y="2943" width="270" height="260"/>
<text class="t" x="1669" y="2962.6"><tspan x="1669">第三，根据高中物理知识的特点，学生应该多</tspan><tspan x="1669" dy="16.4">去练习正在学习的这部分知识，和相对应的习</tspan><tspan x="1669" dy="16.4">题，但是，我们不能一味的去做题，而不停下</tspan><tspan x="1669" dy="16.4">来进行思考与总结。让学生不断做题的目的是</tspan><tspan x="1669" dy="16.4">为了将知识运用的更加熟练，从而为培养学生</tspan><tspan x="1669" dy="16.4">的物理思维做准备，但是如果不停下来思考，</tspan><tspan x="1669" dy="16.4">它考察的是什么样的知识点，和前面我们学习</tspan><tspan x="1669" dy="16.4">的知识有什么关联的话，那么学生前面学习的</tspan><tspan x="1669" dy="16.4">知识漏洞还是很难弥补的，因此，学生在学习</tspan><tspan x="1669" dy="16.4">的过程中，一定要一边做题，一边总结，这样</tspan><tspan x="1669" dy="16.4">，当题目中不断的出现必修部分的相关知识点</tspan><tspan x="1669" dy="16.4">的话，说明这是一个必考的内容，需要加强练</tspan><tspan x="1669" dy="16.4">习，达到复习最好的效果，这就如同生物上学</tspan><tspan x="1669" dy="16.4">习的"用进废退"的原则，经常出现说明很重要</tspan><tspan x="1669" dy="16.4">，一定要弄清楚，弄明白!</tspan></text>
</g>
<g id="b6-f">
<rect class="box" x="1956" y="3033" width="269" height="80"/>
<text class="t" x="1963" y="3052.8"><tspan x="1963">所以，学生在学习物理的过程中遇到了困难，</tspan><tspan x="1963" dy="16.4">一定要请求一下老师的帮助，给予一定的方法</tspan><tspan x="1963" dy="16.4">上的指导，避免盲目的去复习，最终，导致学</tspan><tspan x="1963" dy="16.4">习的压力倍增!</tspan></text>
</g>
<g id="related">
<rect class="blue" x="1448" y="3470" width="273" height="61"/>
<text class="bt" x="1456" y="3495"><tspan x="1456">物理小组实验教学反思7篇相关文</tspan><tspan x="1456" dy="23">章:</tspan></text>
</g>
<g id="rel-1"><rect class="box" x="1744" y="3230" width="182" height="29"/><text class="t" x="1751" y="3248.9">★ 高中物理教学反思范文七篇</text></g>
<g id="rel-2"><rect class="box" x="1744" y="3287" width="177" height="29"/><text class="t" x="1751" y="3305.9">★ 初二物理教学反思范文7篇</text></g>
<g id="rel-3"><rect class="box" x="1744" y="3343" width="176" height="29"/><text class="t" x="1751" y="3361.9">★ 高二物理教学反思范文7篇</text></g>
<g id="rel-4"><rect class="box" x="1744" y="3400" width="182" height="29"/><text class="t" x="1751" y="3418.9">★ 高一物理教学反思范文七篇</text></g>
<g id="rel-5"><rect class="box" x="1744" y="3457" width="182" height="29"/><text class="t" x="1751" y="3475.9">★ 初中物理教学反思范例七篇</text></g>
<g id="rel-6"><rect class="box" x="1744" y="3513" width="182" height="29"/><text class="t" x="1751" y="3531.9">★ 高二物理教学反思范文七篇</text></g>
<g id="rel-7"><rect class="box" x="1744" y="3570" width="202" height="29"/><text class="t" x="1751" y="3588.9">★ 高三物理教学反思范文【7篇】</text></g>
<g id="rel-8"><rect class="box" x="1744" y="3627" width="176" height="29"/><text class="t" x="1751" y="3645.9">★ 学生物理课堂教学反思5篇</text></g>
<g id="rel-9"><rect class="box" x="1744" y="3683" width="176" height="29"/><text class="t" x="1751" y="3701.9">★ 高中物理教学反思范文5篇</text></g>
<g id="rel-10"><rect class="box" x="1744" y="3740" width="202" height="29"/><text class="t" x="1751" y="3758.9">★ 物理教师教学个人反思总结5篇</text></g>
</svg>
